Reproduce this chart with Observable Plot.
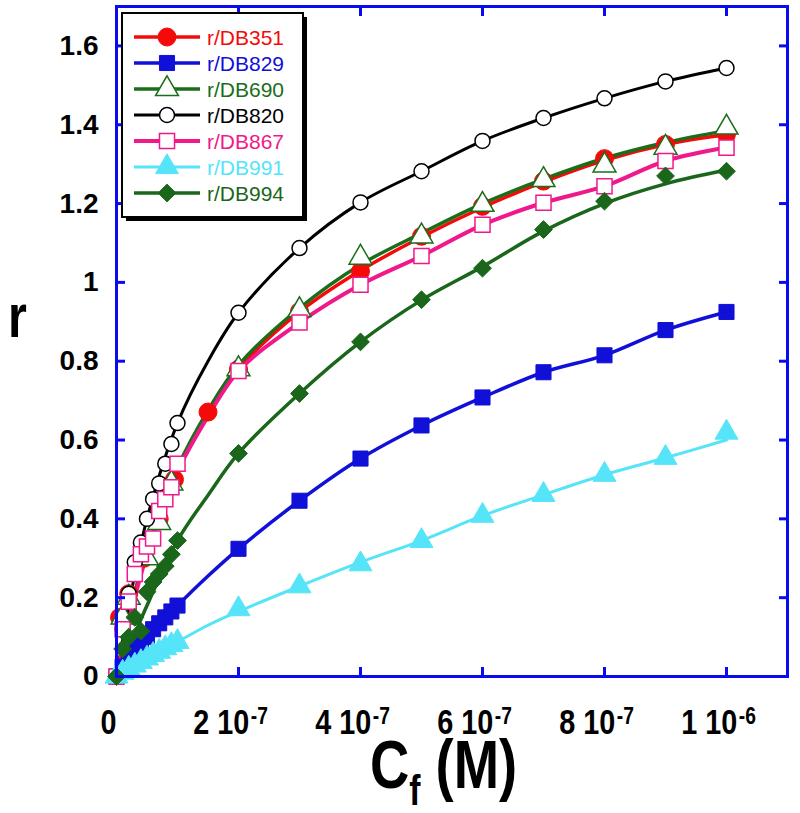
<!DOCTYPE html>
<html><head><meta charset="utf-8">
<script src="https://cdn.jsdelivr.net/npm/d3@7"></script>
<script src="https://cdn.jsdelivr.net/npm/@observablehq/plot@0.6"></script>
<style>body{margin:0;background:#fff}#chart{width:800px;height:813px}</style>
</head><body><div id="chart"></div>
<script>
// Cf values are in units of 1e-7 M
const fitX = [0, 0.25, 0.5, 1, 1.5, 2, 3, 4, 5, 6, 7, 8, 9, 10];

const x351 = [0.05, 0.2, 0.45, 0.7, 0.95, 1.5, 2, 3, 4, 5, 6, 7, 8, 9, 10];
const r351 = [0.15, 0.21, 0.30, 0.40, 0.50, 0.671, 0.78, 0.926, 1.028, 1.117, 1.193, 1.257, 1.314, 1.35, 1.376];
const fit351 = [0, 0.18, 0.32, 0.52, 0.665, 0.78, 0.925, 1.03, 1.115, 1.19, 1.255, 1.31, 1.35, 1.375];

const x829 = [0, 0.1, 0.2, 0.3, 0.4, 0.5, 0.6, 0.7, 0.8, 0.9, 1.0, 2, 3, 4, 5, 6, 7, 8, 9, 10];
const r829 = [0, 0.025, 0.045, 0.065, 0.085, 0.10, 0.12, 0.135, 0.15, 0.165, 0.18, 0.324, 0.446, 0.553, 0.637, 0.708, 0.772, 0.815, 0.879, 0.925];
const fit829 = [0, 0.05, 0.10, 0.18, 0.255, 0.324, 0.446, 0.553, 0.637, 0.708, 0.772, 0.815, 0.879, 0.925];

const x690 = [0.1, 0.2, 0.5, 0.7, 0.9, 2, 3, 4, 5, 6, 7, 8, 9, 10];
const r690 = [0.15, 0.20, 0.30, 0.39, 0.49, 0.78, 0.93, 1.063, 1.117, 1.197, 1.26, 1.297, 1.342, 1.393];
const fit690 = [0, 0.18, 0.32, 0.53, 0.675, 0.79, 0.935, 1.045, 1.125, 1.2, 1.262, 1.315, 1.355, 1.385];

const x820 = [0, 0.1, 0.2, 0.3, 0.4, 0.5, 0.6, 0.7, 0.8, 0.9, 1.0, 2, 3, 4, 5, 6, 7, 8, 9, 10];
const r820 = [0, 0.12, 0.21, 0.29, 0.34, 0.40, 0.45, 0.49, 0.54, 0.59, 0.643, 0.923, 1.087, 1.203, 1.282, 1.359, 1.417, 1.467, 1.51, 1.544];
const fit820 = [0, 0.22, 0.40, 0.643, 0.80, 0.923, 1.087, 1.203, 1.282, 1.359, 1.417, 1.467, 1.51, 1.544];

const x867 = [0, 0.1, 0.2, 0.3, 0.4, 0.5, 0.6, 0.7, 0.8, 0.9, 1.0, 2, 3, 4, 5, 6, 7, 8, 9, 10];
const r867 = [0, 0.12, 0.19, 0.26, 0.31, 0.33, 0.35, 0.42, 0.45, 0.48, 0.54, 0.775, 0.898, 0.994, 1.067, 1.146, 1.202, 1.244, 1.308, 1.342];
const fit867 = [0, 0.17, 0.31, 0.52, 0.66, 0.775, 0.898, 0.994, 1.067, 1.146, 1.202, 1.244, 1.308, 1.342];

const x991 = [0, 0.1, 0.2, 0.3, 0.4, 0.5, 0.6, 0.7, 0.8, 0.9, 1.0, 2, 3, 4, 5, 6, 7, 8, 9, 10];
const r991 = [0, 0.01, 0.02, 0.028, 0.037, 0.046, 0.055, 0.063, 0.072, 0.08, 0.088, 0.171, 0.229, 0.285, 0.344, 0.408, 0.461, 0.512, 0.555, 0.619];
const fit991 = [0, 0.025, 0.047, 0.088, 0.13, 0.165, 0.229, 0.29, 0.345, 0.408, 0.461, 0.512, 0.555, 0.60];

const x994 = [0, 0.1, 0.2, 0.3, 0.4, 0.5, 0.6, 0.7, 0.8, 0.9, 1.0, 2, 3, 4, 5, 6, 7, 8, 9, 10];
const r994 = [0, 0.07, 0.10, 0.15, 0.115, 0.215, 0.24, 0.26, 0.28, 0.31, 0.345, 0.566, 0.718, 0.849, 0.956, 1.036, 1.134, 1.206, 1.27, 1.282];
const fit994 = [0, 0.09, 0.18, 0.345, 0.46, 0.566, 0.718, 0.849, 0.955, 1.04, 1.13, 1.2, 1.25, 1.285];

const seriesNames = ["r/DB351", "r/DB829", "r/DB690", "r/DB820", "r/DB867", "r/DB991", "r/DB994"];
const xTicks = [0, 2e-7, 4e-7, 6e-7, 8e-7, 1e-6];
const xTickLabels = ["0", "2 10^-7", "4 10^-7", "6 10^-7", "8 10^-7", "1 10^-6"];
const yTicks = [0, 0.2, 0.4, 0.6, 0.8, 1, 1.2, 1.4, 1.6];
const yTickLabels = ["0", "0.2", "0.4", "0.6", "0.8", "1", "1.2", "1.4", "1.6"];

const BLUE = "#0a0af0";
const FONT = "'Liberation Sans', Arial, sans-serif";

const styles = [
  {color: "#f50a0a", symbol: "circle", fill: "#f50a0a", r: 9, sw: 3.5, lw: 1},
  {color: "#1010d8", symbol: "square", fill: "#1010d8", r: 8.5, sw: 3.5, lw: 1},
  {color: "#1a6e1a", symbol: "triangle", fill: "white", r: 8.5, sw: 3.5, lw: 1.5},
  {color: "#000000", symbol: "circle", fill: "white", r: 7.5, sw: 3, lw: 1.5},
  {color: "#f0198c", symbol: "square", fill: "white", r: 8.5, sw: 4, lw: 1.5},
  {color: "#55e4f8", symbol: "triangle", fill: "#55e4f8", r: 8.5, sw: 3, lw: 1},
  {color: "#1a661a", symbol: "diamond2", fill: "#1a661a", r: 8, sw: 3.5, lw: 1}
];
const markerData = [[x351, r351], [x829, r829], [x690, r690], [x820, r820], [x867, r867], [x991, r991], [x994, r994]];
const fitData = [fit351, fit829, fit690, fit820, fit867, fit991, fit994];

const lineMarks = fitData.map((f, i) => Plot.line(
  fitX.map((x, j) => ({x: x * 1e-7, y: f[j]})),
  {x: "x", y: "y", stroke: styles[i].color, strokeWidth: styles[i].sw, curve: "catmull-rom"}));
const dotMarks = markerData.map(([xs, ys], i) => Plot.dot(
  xs.map((x, j) => ({x: x * 1e-7, y: ys[j]})),
  {x: "x", y: "y", symbol: styles[i].symbol, r: styles[i].r, fill: styles[i].fill,
   stroke: styles[i].color, strokeWidth: styles[i].lw}));

const xLab = new Map(xTicks.map((t, i) => [t, xTickLabels[i]]));
const yLab = new Map(yTicks.map((t, i) => [t, yTickLabels[i]]));

const chart = Plot.plot({
  width: 800, height: 813,
  marginLeft: 116, marginRight: 13, marginTop: 6, marginBottom: 137,
  x: {domain: [0, 1.1e-6]},
  y: {domain: [0, 1.7]},
  style: {fontFamily: FONT, background: "white", overflow: "visible"},
  marks: [
    ...lineMarks,
    ...dotMarks,
    Plot.frame({stroke: BLUE, strokeWidth: 3}),
    Plot.axisX(xTicks, {anchor: "bottom", tickSize: -9, stroke: BLUE, strokeWidth: 3, tickFormat: () => "", label: null}),
    Plot.axisX(xTicks, {anchor: "top", tickSize: -9, stroke: BLUE, strokeWidth: 3, tickFormat: () => "", label: null}),
    Plot.axisY(yTicks, {anchor: "left", tickSize: -9, stroke: BLUE, strokeWidth: 3, tickFormat: () => "", label: null}),
    Plot.axisY(yTicks, {anchor: "right", tickSize: -9, stroke: BLUE, strokeWidth: 3, tickFormat: () => "", label: null}),
    Plot.axisX(xTicks, {anchor: "bottom", tickSize: 0, tickPadding: 32, dx: -8, tickFormat: d => xLab.get(d), label: null,
      fontSize: 36, fontWeight: "bold", fill: "black"}),
    Plot.axisY(yTicks, {anchor: "left", tickSize: 0, tickPadding: 18, tickFormat: d => yLab.get(d), label: null,
      fontSize: 28, fontWeight: "bold", fill: "black"})
  ]
});
document.getElementById("chart").appendChild(chart);

const svg = d3.select(chart);
// superscript exponents on x tick labels, horizontally condensed like the reference
svg.selectAll('g[aria-label="x-axis tick label"] text').each(function() {
  const t = d3.select(this);
  const s = t.text();
  let tr = t.attr("transform");
  if (!tr) {
    tr = `translate(${+t.attr("x") || 0},${+t.attr("y") || 0})`;
    t.attr("x", null).attr("y", null);
  }
  t.attr("transform", tr + " scale(0.8,1)");
  if (!s.includes("^")) return;
  const [base, exp] = s.split("^");
  t.text(null);
  t.append("tspan").text(base);
  t.append("tspan").attr("dx", 2).attr("dy", "-0.42em").attr("font-size", 24).text(exp);
});

// axis titles
svg.append("g").attr("transform", "translate(8,337) scale(0.78,1)")
  .append("text").attr("text-anchor", "start")
  .attr("font-weight", "bold").attr("font-size", 62).attr("fill", "black").text("r");
const xt = svg.append("g").attr("transform", "translate(370,788) scale(0.8,1)")
  .append("text").attr("text-anchor", "start")
  .attr("font-weight", "bold").attr("font-size", 68).attr("fill", "black");
xt.append("tspan").text("C");
xt.append("tspan").attr("font-size", 42).attr("dy", 17).text("f");
xt.append("tspan").attr("dy", -17).text(" (M)");

// legend
const lg = svg.append("g");
lg.append("rect").attr("x", 126).attr("y", 17).attr("width", 181).attr("height", 204).attr("fill", "black");
lg.append("rect").attr("x", 122).attr("y", 13).attr("width", 181).attr("height", 204)
  .attr("fill", "white").attr("stroke", "black").attr("stroke-width", 2);
const symMap = {circle: d3.symbolCircle, square: d3.symbolSquare, triangle: d3.symbolTriangle, diamond2: d3.symbolDiamond2};
seriesNames.forEach((name, i) => {
  const st = styles[i];
  const cy = 37 + i * 26;
  lg.append("line").attr("x1", 134).attr("x2", 200).attr("y1", cy).attr("y2", cy)
    .attr("stroke", st.color).attr("stroke-width", st.sw);
  lg.append("path").attr("transform", `translate(167,${cy})`)
    .attr("d", d3.symbol(symMap[st.symbol], Math.PI * st.r * st.r)())
    .attr("fill", st.fill).attr("stroke", st.color).attr("stroke-width", st.lw);
  lg.append("text").attr("x", 207).attr("y", cy + 7.5).attr("text-anchor", "start")
    .attr("font-size", 21).attr("fill", st.color).text(name);
});
</script></body></html>
